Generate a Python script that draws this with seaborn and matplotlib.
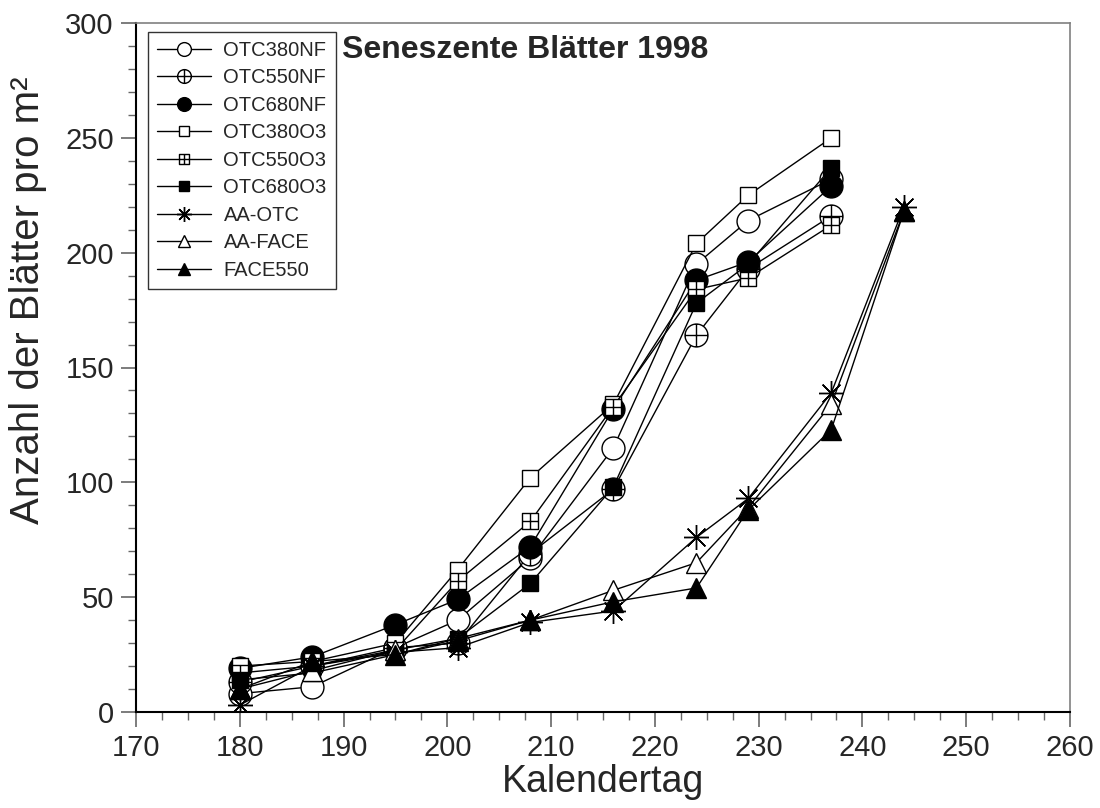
import matplotlib
matplotlib.use('Agg')
import matplotlib.pyplot as plt
import matplotlib.path as mpath
from matplotlib.ticker import MultipleLocator
import seaborn as sns

# Kalendertage der Zaehlungen
days = [180, 187, 195, 201, 208, 216, 224, 229, 237]
days_aa = [180, 187, 195, 201, 208, 216, 224, 229, 237, 244]

# Anzahl seneszenter Blaetter pro m2
otc380nf = [8, 11, 28, 40, 67, 115, 195, 214, 232]
otc550nf = [13, 20, 28, 30, 69, 97, 164, 193, 216]
otc680nf = [19, 24, 38, 49, 72, 132, 188, 196, 229]
otc380o3 = [20, 22, 30, 62, 102, 134, 204, 225, 250]
otc550o3 = [17, 20, 27, 57, 83, 133, 184, 189, 212]
otc680o3 = [14, 17, 25, 32, 56, 98, 178, 195, 237]
aa_otc = [3, 20, 26, 28, 39, 44, 76, 93, 139, 220]
aa_face = [10, 18, 27, 32, 40, 53, 65, 89, 134, 218]
face550 = [10, 22, 25, 31, 40, 48, 54, 88, 123, 218]

series_names = ['OTC380NF', 'OTC550NF', 'OTC680NF', 'OTC380O3', 'OTC550O3',
                'OTC680O3', 'AA-OTC', 'AA-FACE', 'FACE550']

sns.set_style('white')
plt.rcParams['font.family'] = ['Liberation Sans', 'DejaVu Sans']

# marker shapes: circle / square with a cross inside
P = mpath.Path
cross = P([(-1, 0), (1, 0), (0, -1), (0, 1)], [P.MOVETO, P.LINETO, P.MOVETO, P.LINETO])
circle_plus = P.make_compound_path(P.unit_circle(), cross)
square = P([(-1, -1), (1, -1), (1, 1), (-1, 1), (-1, -1)],
           [P.MOVETO, P.LINETO, P.LINETO, P.LINETO, P.CLOSEPOLY])
square_plus = P.make_compound_path(square, cross)

styles = [
    ('o', 'white', 16.5),
    (circle_plus, 'white', 16.5),
    ('o', 'black', 16.5),
    ('s', 'white', 12),
    (square_plus, 'white', 12),
    ('s', 'black', 12),
    ((8, 2, 0), 'black', 18),
    ('^', 'white', 14),
    ('^', 'black', 14),
]
values = [otc380nf, otc550nf, otc680nf, otc380o3, otc550o3, otc680o3,
          aa_otc, aa_face, face550]
xs = [days] * 6 + [days_aa] * 3

fig = plt.figure(figsize=(11, 8.08), dpi=100)
ax = fig.add_axes([136 / 1100, 1 - 712 / 808, 934 / 1100, 689 / 808])

for name, x, y, (mk, fc, ms) in zip(series_names, xs, values, styles):
    sns.lineplot(x=x, y=y, ax=ax, color='black', linewidth=1, marker=mk,
                 markersize=ms, markerfacecolor=fc, markeredgecolor='black',
                 markeredgewidth=1, errorbar=None, label=name, legend=False)

ax.set_xlim(170, 260)
ax.set_ylim(0, 300)
ax.xaxis.set_major_locator(MultipleLocator(10))
ax.xaxis.set_minor_locator(MultipleLocator(2.5))
ax.yaxis.set_major_locator(MultipleLocator(50))
ax.yaxis.set_minor_locator(MultipleLocator(10))
ax.tick_params(which='major', direction='out', length=11, width=1.2,
               color='#666666', labelsize=21, pad=5,
               bottom=True, left=True)
ax.tick_params(which='minor', direction='out', length=5.5, width=1,
               color='#666666', bottom=True, left=True)

for s in ['left', 'bottom']:
    ax.spines[s].set_color('black')
    ax.spines[s].set_linewidth(1.5)
for s in ['top', 'right']:
    ax.spines[s].set_color('#808080')
    ax.spines[s].set_linewidth(1.2)

ax.set_xlabel('Kalendertag', fontsize=27, labelpad=1)
ax.set_ylabel('Anzahl der Blätter pro m²', fontsize=29)
ax.yaxis.set_label_coords(-0.095, 0.598)

ax.text(0.221, 0.961, 'Seneszente Blätter 1998', transform=ax.transAxes,
        fontsize=23, fontweight='bold', va='center', ha='left')

leg = ax.legend(loc='upper left', bbox_to_anchor=(0.0128, 0.987),
                borderaxespad=0, fontsize=14.5, markerscale=0.6,
                handlelength=2.7, handletextpad=0.6, labelspacing=0.42,
                borderpad=0.45, fancybox=False, framealpha=1)
leg.get_frame().set_edgecolor('#333333')
leg.get_frame().set_linewidth(1)

plt.savefig('out.png', dpi=100)
plt.close()
